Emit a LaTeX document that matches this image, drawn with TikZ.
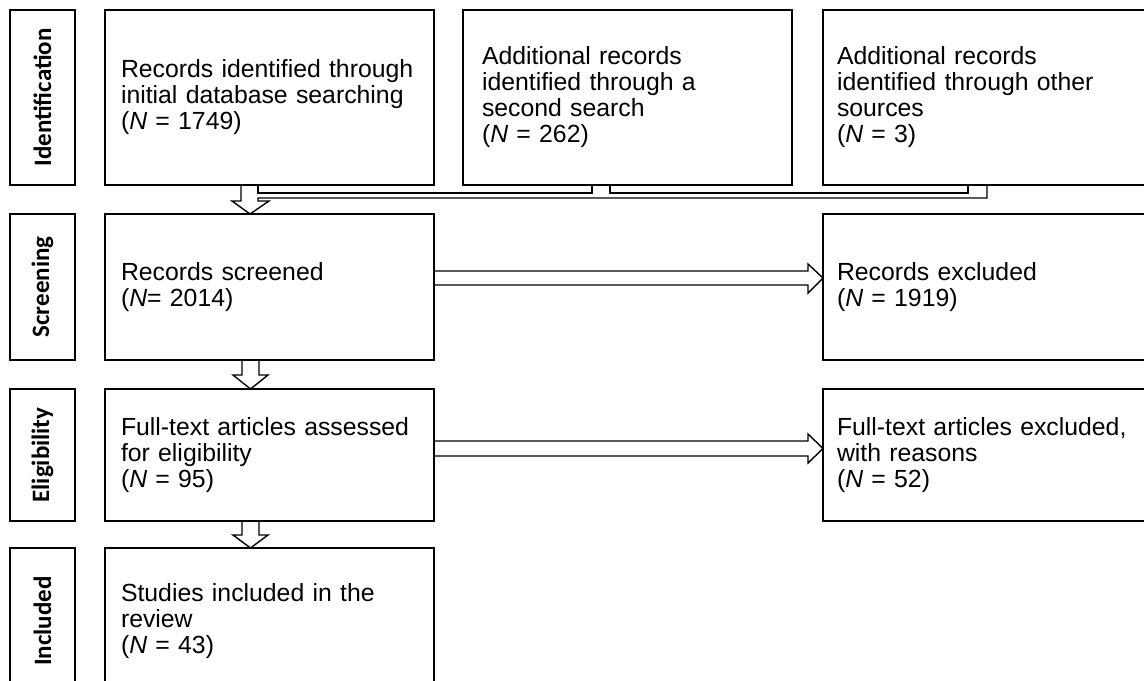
\documentclass[tikz,border=0pt]{standalone}
\usepackage{fontspec}
\setmainfont{Liberation Sans}
\newfontfamily\stagefont{Carlito}
\usepackage{tikz}
\usetikzlibrary{calc}

\begin{document}
\begin{tikzpicture}[x=0.5pt, y=-0.5pt,
		box/.style={draw, line width=0.7pt, outer sep=0pt, minimum width=164.5pt,
			text width=148.5pt, inner xsep=8pt, align=left,
			font=\fontsize{12.4}{13}\selectfont},
		stage/.style={draw, line width=0.7pt, outer sep=0pt, rotate=90,
			minimum height=32.5pt, font=\stagefont\bfseries\fontsize{12.5}{13}\selectfont},
		flow/.style={line width=0.7pt, line join=miter}]
		\useasboundingbox (0,0) rectangle (1144,680);
		% Stages
		\node[stage, minimum width=87.5pt] (sid) at (42.5,97.5) {Identification};
		\node[stage, minimum width=73pt] (ssc) at (42.5,287) {Screening};
		\node[stage, minimum width=66pt] (sel) at (42.5,455) {Eligibility};
		\node[stage, minimum width=73pt] (sin) at (42.5,621) {Included};
		% Identification
		\node[box, minimum height=87.5pt] (rec1) at (269.5,97.5)
			{Records identified through\\initial database searching\\(\textit{N} = 1749)};
		\node[box, minimum height=87.5pt, inner xsep=9.5pt, text width=145.5pt] (rec2) at (627.5,97.5)
			{Additional records\\identified through a\\second search\\(\textit{N} = 262)};
		\node[box, minimum height=87.5pt, inner xsep=7pt, text width=150.5pt] (rec3) at (987.5,97.5)
			{Additional records\\identified through other\\sources\\(\textit{N} = 3)};
		% Screening
		\node[box, minimum height=73pt] (scr) at (269.5,287)
			{Records screened\\(\textit{N}= 2014)};
		\node[box, minimum height=73pt, inner xsep=7pt, text width=150.5pt] (excl) at (987.5,287)
			{Records excluded\\(\textit{N} = 1919)};
		% Eligibility
		\node[box, minimum height=66pt] (full) at (269.5,455)
			{Full-text articles assessed\\for eligibility\\(\textit{N} = 95)};
		\node[box, minimum height=66pt, inner xsep=7pt, text width=150.5pt] (fexcl) at (987.5,455)
			{Full-text articles excluded,\\with reasons\\(\textit{N} = 52)};
		% Included
		\node[box, minimum height=73pt] (incl) at (269.5,621)
			{Studies included in the\\review\\(\textit{N} = 43)};
		% Merge of the three searches
		\draw[flow] ($(rec1.south west)+(136,0)$) -- ++(0,16) -- ++(-9,0)
			-- ($(scr.north west)+(145,0)$) -- ($(rec1.south west)+(164,16)$)
			-- ++(-11,0) -- ++(0,-3) -| ($(rec3.south west)+(164,0)$);
		\draw[flow] ($(rec3.south west)+(145,0)$) -- ++(0,8) -| ($(rec2.south west)+(147,0)$);
		\draw[flow] ($(rec2.south west)+(129,0)$) -- ++(0,8) -| ($(rec1.south west)+(153,0)$);
		% Down arrows
		\draw[flow] ($(scr.south west)+(137,0)$) -- ++(0,15) -- ++(-9,0)
			-- ($(full.north west)+(145.5,0)$) -- ($(scr.south west)+(163,15)$)
			-- ++(-9,0) -- ($(scr.south west)+(154,0)$);
		\draw[flow] ($(full.south west)+(137,0)$) -- ++(0,14) -- ++(-9,0)
			-- ($(incl.north west)+(145.5,0)$) -- ($(full.south west)+(163,14)$)
			-- ++(-9,0) -- ($(full.south west)+(154,0)$);
		% Exclusion arrows
		\draw[flow] ($(scr.north east)+(0,57)$) -- ($(excl.north west)+(-15,57)$)
			-- ++(0,-7) -- ($(excl.north west)+(0,64)$) -- ($(excl.north west)+(-15,79)$)
			-- ++(0,-8) -- ($(scr.north east)+(0,71)$);
		\draw[flow] ($(full.north east)+(0,52)$) -- ($(fexcl.north west)+(-15,52)$)
			-- ++(0,-7) -- ($(fexcl.north west)+(0,59.5)$) -- ($(fexcl.north west)+(-15,74)$)
			-- ++(0,-7) -- ($(full.north east)+(0,67)$);
	\end{tikzpicture}
\end{document}
